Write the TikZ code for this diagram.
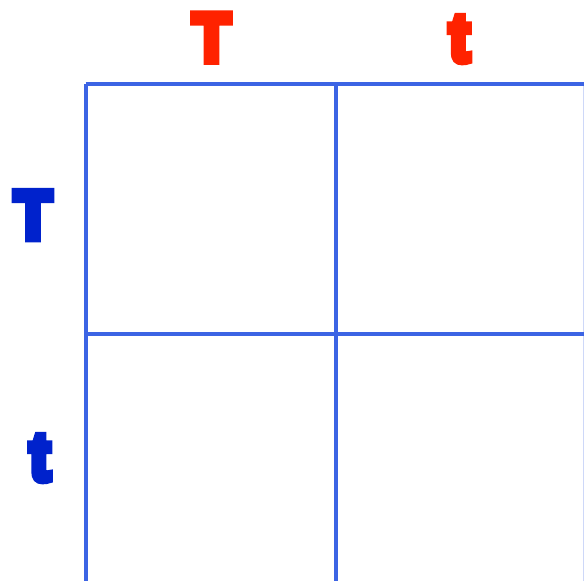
\documentclass[tikz,border=0pt]{standalone}
\usepackage{fontspec}
\newfontfamily\heavyfont{Liberation Sans Bold}[FakeBold=11]
\definecolor{gridblue}{RGB}{60,100,228}
\definecolor{labred}{RGB}{255,34,0}
\definecolor{labblue}{RGB}{0,34,204}
\begin{document}
\begin{tikzpicture}[x=1pt,y=-1pt,
  gridline/.style={draw=gridblue,line width=4pt},
  lab/.style={anchor=base,inner sep=0pt,font=\heavyfont\fontsize{68}{68}\selectfont,xscale=0.9}]
\useasboundingbox (0,0) rectangle (584,581);
\fill[white] (0,0) rectangle (584,581);
% grid
\draw[gridline] (85.5,83.5) -- (590,83.5);
\draw[gridline] (85.5,334) -- (590,334);
\draw[gridline] (85.5,83.5) -- (85.5,590);
\draw[gridline] (336,83.5) -- (336,590);
\draw[gridline,draw opacity=0.25] (585,83.5) -- (585,590);
% labels
\node[lab,text=labred] (cT) at (211.5,61) {T};
\node[lab,text=labred] (ct) at (459.5,61) {t};
\node[lab,text=labblue] (rT) at (33,238.5) {T};
\node[lab,text=labblue] (rt) at (40,480) {t};
\end{tikzpicture}
\end{document}
